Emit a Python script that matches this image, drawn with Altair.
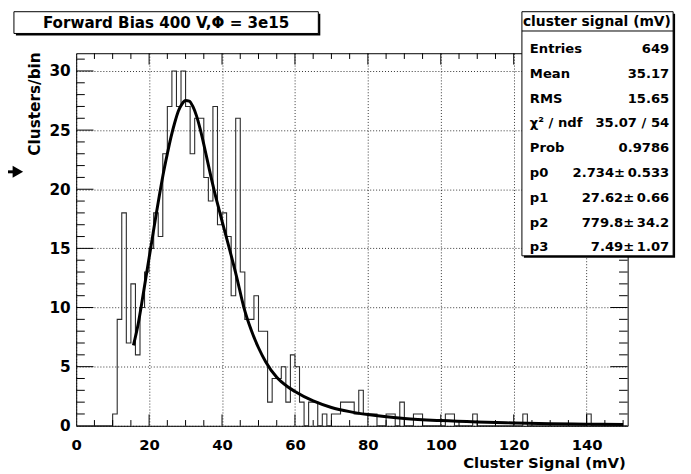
import altair as alt
import pandas as pd

# ---------------- data ----------------
bin_width = 1.25
counts = [0, 0, 0, 0, 0, 0, 0, 0,
          1, 9, 18, 7, 12, 6, 10, 13,
          15, 18, 16, 23, 27, 30, 27, 30,
          27, 23, 26, 26, 21, 19, 27, 17,
          18, 16, 11, 26, 13, 9, 9, 11,
          8, 8, 2, 4, 4, 5, 2, 6, 5, 2,
          0, 2, 2, 0, 1, 0, 1, 1, 2, 2,
          2, 1, 3, 1, 1, 1, 0, 0, 1, 1,
          0, 2, 0, 0, 1, 1, 0, 0, 0, 0,
          0, 1, 1, 0, 0, 0, 0, 1, 0, 0,
          0, 0, 0, 0, 0, 0, 0, 0, 1, 0,
          0, 0, 0, 0, 0, 0, 0, 0, 0, 0,
          0, 0, 1, 0, 0, 0, 0, 0, 0, 0, 0]

fit_x = [15.7, 17, 18, 19, 20, 21, 22, 23, 24, 25, 26, 27, 28, 29, 30, 31, 32, 33, 34,
         35, 36, 37, 38, 39, 40, 42, 44, 46, 48, 50, 52, 55, 58, 60, 65, 70, 75, 80,
         90, 100, 110, 120, 130, 140, 150]
fit_y = [6.8, 8.6, 10.4, 12.3, 14.2, 16.1, 18.0, 19.8, 21.5, 23.0, 24.4, 25.6, 26.6, 27.2,
         27.5, 27.45, 27.0, 26.2, 25.1, 23.8, 22.4, 21.0, 19.7, 18.5, 17.3, 15.0, 12.6,
         10.0, 8.1, 6.6, 5.4, 4.1, 3.3, 2.9, 2.1, 1.55, 1.2, 0.95, 0.62, 0.44, 0.32,
         0.24, 0.18, 0.14, 0.11]

x_label_values = [0, 20, 40, 60, 80, 100, 120, 140]
y_label_values = [0, 5, 10, 15, 20, 25, 30]
x_minor_ticks = [5, 10, 15, 25, 30, 35, 45, 50, 55, 65, 70, 75, 85, 90, 95,
                 105, 110, 115, 125, 130, 135, 145, 150]
x_major_ticks = [20, 40, 60, 80, 100, 120, 140]
y_minor_ticks = [1, 2, 3, 4, 6, 7, 8, 9, 11, 12, 13, 14, 16, 17, 18, 19,
                 21, 22, 23, 24, 26, 27, 28, 29, 31]
y_major_ticks = [5, 10, 15, 20, 25, 30]

title_text = "Forward Bias 400 V,\u03a6 = 3e15"
stats_title = "cluster signal (mV)"
stats_names = ["Entries", "Mean", "RMS", "\u03c7\u00b2 / ndf", "Prob", "p0", "p1", "p2", "p3"]
stats_values = ["649", "35.17", "15.65", "35.07 / 54", "0.9786",
                "2.734\u00b1\u20090.533", "27.62\u00b1\u20090.66",
                "779.8\u00b1\u200934.2", "7.49\u00b1\u20091.07"]
x_title = "Cluster Signal (mV)"
y_title = "Clusters/bin"

# ---------------- layout ----------------
W, H = 558, 377
XMAX, YMAX = 151.25, 31.5
FONT = "DejaVu Sans"

xs = alt.Scale(domain=[0, XMAX], nice=False, zero=False)
ys = alt.Scale(domain=[0, YMAX], nice=False, zero=False)

x_axis = alt.Axis(values=x_label_values, title=None, labelFont=FONT, labelFontWeight="bold",
                  labelFontSize=15, labelColor="#000", labelPadding=12, ticks=False,
                  domain=False, grid=True, gridColor="#000", gridDash=[1, 2], gridWidth=1,
                  gridOpacity=0.8, labelFlush=False, labelOverlap=False)
y_axis = alt.Axis(values=y_label_values, title=None, labelFont=FONT, labelFontWeight="bold",
                  labelFontSize=15.5, labelColor="#000", labelPadding=6, ticks=False,
                  domain=False, grid=True, gridColor="#000", gridDash=[1, 2], gridWidth=1,
                  gridOpacity=0.8, labelOverlap=False)

edges = [i * bin_width for i in range(len(counts) + 1)]
hist_df = pd.DataFrame({"x": edges, "y": counts + [counts[-1]]})
fit_df = pd.DataFrame({"x": fit_x, "y": fit_y})

hist = alt.Chart(hist_df).mark_line(interpolate="step-after", color="#2a2a2a",
                                    strokeWidth=1.1).encode(
    x=alt.X("x:Q", scale=xs, axis=x_axis), y=alt.Y("y:Q", scale=ys, axis=y_axis))

fit = alt.Chart(fit_df).mark_line(interpolate="monotone", color="#000",
                                  strokeWidth=3).encode(
    x=alt.X("x:Q", scale=xs, axis=x_axis), y=alt.Y("y:Q", scale=ys, axis=y_axis))


def xticks(vals, y0, y1):
    return alt.Chart(pd.DataFrame({"t": vals})).mark_rule(color="#000", strokeWidth=1).encode(
        x=alt.X("t:Q", scale=xs, axis=x_axis), y=alt.value(y0), y2=alt.value(y1))


def yticks(vals, x0, x1):
    return alt.Chart(pd.DataFrame({"t": vals})).mark_rule(color="#000", strokeWidth=1).encode(
        y=alt.Y("t:Q", scale=ys, axis=y_axis), x=alt.value(x0), x2=alt.value(x1))


ticks = [
    xticks(x_minor_ticks, H, H - 5.8), xticks(x_major_ticks, H, H - 11.5),
    xticks(x_minor_ticks, 0, 5.8), xticks(x_major_ticks, 0, 11.5),
    yticks(y_minor_ticks, 0, 8.7), yticks(y_major_ticks, 0, 17.5),
    yticks(y_minor_ticks, W, W - 8.7), yticks(y_major_ticks, W, W - 17.5),
]

one = pd.DataFrame({"a": [0]})


def box(x0, x1, y0, y1):
    shadow = alt.Chart(one).mark_rect(fill="#000").encode(
        x=alt.value(x0 + 2), x2=alt.value(x1 + 2), y=alt.value(y0 + 2), y2=alt.value(y1 + 2))
    main = alt.Chart(one).mark_rect(fill="#fff", stroke="#000", strokeWidth=1).encode(
        x=alt.value(x0), x2=alt.value(x1), y=alt.value(y0), y2=alt.value(y1))
    return [shadow, main]


title_box = box(-63, 245, -42, -20)
title_mark = alt.Chart(one).mark_text(text=title_text, font=FONT, fontWeight="bold",
                                      fontSize=15.3, align="center", baseline="alphabetic",
                                      color="#000").encode(x=alt.value(91), y=alt.value(-26))

stats_box = box(451, 604, -42, 205)
stats_sep = alt.Chart(one).mark_rule(color="#000", strokeWidth=1).encode(
    x=alt.value(451), x2=alt.value(604), y=alt.value(-22.5))
stats_head = alt.Chart(one).mark_text(text=stats_title, font=FONT, fontWeight="bold",
                                      fontSize=14, align="left", baseline="alphabetic",
                                      color="#000").encode(x=alt.value(452), y=alt.value(-28))
stats_lab = alt.Chart(one).mark_text(text="\n".join(stats_names), lineBreak="\n",
                                     lineHeight=25.1, font=FONT, fontWeight="bold",
                                     fontSize=13.3, align="left", baseline="alphabetic",
                                     color="#000").encode(x=alt.value(459), y=alt.value(-0.3))
stats_val = alt.Chart(one).mark_text(text="\n".join(stats_values), lineBreak="\n",
                                     lineHeight=25.1, font=FONT, fontWeight="bold",
                                     fontSize=13.3, align="right", baseline="alphabetic",
                                     color="#000").encode(x=alt.value(600), y=alt.value(-0.3))

xt = alt.Chart(one).mark_text(text=x_title, font=FONT, fontWeight="bold", fontSize=15,
                              align="right", baseline="alphabetic", color="#000").encode(
    x=alt.value(556), y=alt.value(420))
yt = alt.Chart(one).mark_text(text=y_title, font=FONT, fontWeight="bold", fontSize=15.5,
                              align="right", baseline="alphabetic", angle=270,
                              color="#000").encode(x=alt.value(-37), y=alt.value(-1))

arrow_shaft = alt.Chart(one).mark_rule(color="#000", strokeWidth=3).encode(
    x=alt.value(-70), x2=alt.value(-63), y=alt.value(120))
arrow_head = alt.Chart(one).mark_point(shape="triangle-right", filled=True, color="#000",
                                       size=150, opacity=1).encode(
    x=alt.value(-59), y=alt.value(120))

layers = [hist, fit] + ticks + title_box + [title_mark] + stats_box + \
    [stats_sep, stats_head, stats_lab, stats_val, xt, yt, arrow_shaft, arrow_head]

chart = alt.layer(*layers).properties(
    width=W, height=H,
    autosize=alt.AutoSizeParams(type="none"),
    padding={"left": 69, "top": 43, "right": 56, "bottom": 46},
    background="#fff",
).configure_view(stroke="#000", strokeWidth=1)

chart.save("out.html", embed_options={"renderer": "svg", "actions": False})
